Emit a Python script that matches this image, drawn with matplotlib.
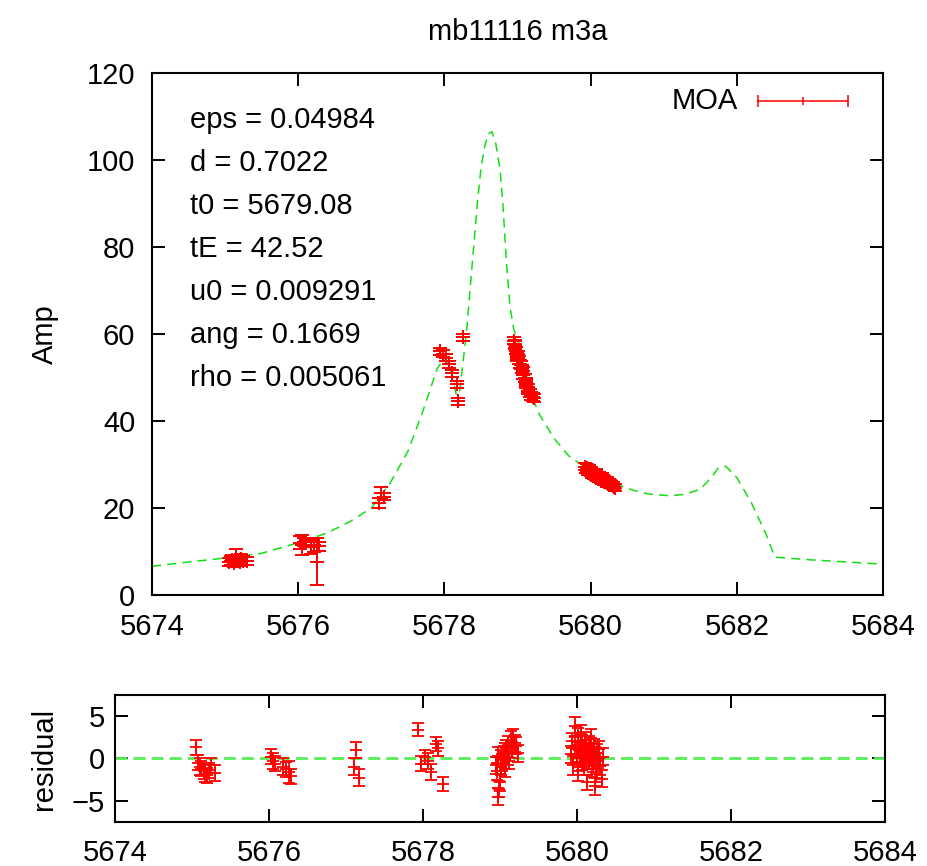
import matplotlib
matplotlib.use('Agg')
import matplotlib.pyplot as plt

plt.rcParams['font.family'] = ['Liberation Sans', 'DejaVu Sans']
plt.rcParams['font.size'] = 21

# model curve
model_t = [5674.0, 5674.5, 5675.0, 5675.5, 5676.0, 5676.4, 5676.7, 5677.0, 5677.25,
           5677.5, 5677.7, 5677.9, 5678.0, 5678.08, 5678.15, 5678.19, 5678.23, 5678.3,
           5678.35, 5678.4, 5678.45, 5678.5, 5678.55, 5678.6, 5678.65, 5678.7, 5678.76,
           5678.8, 5678.85, 5678.9, 5678.95, 5679.0,
           5679.1, 5679.2, 5679.3, 5679.5, 5679.7, 5680.0, 5680.2, 5680.4, 5680.6,
           5680.8, 5681.1, 5681.3, 5681.5, 5681.65, 5681.75, 5681.85, 5682.0, 5682.2,
           5682.4, 5682.52, 5683.0, 5683.5, 5684.0]
model_amp = [6.6, 7.6, 8.5, 9.6, 12.0, 14.3, 16.8, 20.0, 25.5,
             33.0, 42.0, 52.0, 54.5, 52.0, 47.0, 44.0, 50.0, 60.0,
             70.0, 80.0, 90.0, 98.0, 103.0, 106.0, 106.5, 104.0, 98.0,
             90.0, 76.0, 66.0, 61.0, 59.0,
             52.0, 45.5, 41.5, 36.0, 32.0, 28.5, 26.5, 25.2, 24.0,
             23.2, 22.8, 23.2, 24.3, 27.0, 29.3, 29.6, 27.0, 21.2,
             14.0, 8.7, 8.1, 7.6, 7.1]

# MOA data: time, amplification, error, residual, residual error
moa_t = [5675.05, 5675.08, 5675.10, 5675.12, 5675.15, 5675.17, 5675.20, 5675.22, 5675.25, 5675.30,
         5676.02, 5676.05, 5676.08, 5676.18, 5676.22, 5676.26, 5676.28,
         5677.10, 5677.13, 5677.17,
         5677.94, 5677.98, 5678.02, 5678.06, 5678.10, 5678.17, 5678.19, 5678.26,
         5678.95, 5678.96, 5678.97, 5678.98, 5678.99, 5679.00, 5679.01, 5679.02, 5679.03, 5679.05,
         5679.06, 5679.07, 5679.08, 5679.10, 5679.11, 5679.12, 5679.14, 5679.15, 5679.17, 5679.19,
         5679.21, 5679.23,
         5679.92, 5679.94, 5679.95, 5679.97, 5679.98, 5680.00, 5680.01, 5680.02, 5680.03, 5680.04,
         5680.05, 5680.06, 5680.07, 5680.08, 5680.09, 5680.10, 5680.11, 5680.12, 5680.13, 5680.14,
         5680.15, 5680.16, 5680.17, 5680.18, 5680.19, 5680.20, 5680.21, 5680.22, 5680.23, 5680.24,
         5680.25, 5680.26, 5680.27, 5680.28, 5680.30, 5680.32, 5680.34]
moa_amp = [7.6, 7.9, 8.1, 7.4, 8.8, 8.0, 7.7, 8.3, 7.9, 7.8,
           12.0, 11.6, 12.2, 11.0, 11.5, 7.6, 11.2,
           21.2, 23.5, 22.6,
           56.0, 55.5, 54.5, 53.0, 51.0, 48.5, 44.5, 59.3,
           58.5, 57.5, 57.8, 56.2, 55.0, 54.6, 55.3, 54.0, 53.2, 52.8,
           52.0, 51.5, 50.5, 49.8, 49.0, 48.5, 47.6, 47.0, 46.5, 45.8,
           45.5, 45.3,
           29.5, 28.8, 29.2, 28.5, 28.9, 28.0, 28.6, 27.9, 28.3, 27.5,
           28.1, 27.6, 27.2, 27.9, 27.0, 27.4, 26.8, 27.5, 26.9, 26.5,
           27.1, 26.4, 26.9, 26.2, 26.6, 26.0, 26.5, 25.8, 26.3, 25.7,
           25.9, 25.4, 25.8, 25.3, 25.1, 24.9, 24.7]
moa_err = [1.0, 1.0, 1.2, 1.0, 1.8, 1.1, 1.0, 1.2, 1.0, 1.0,
           1.5, 2.3, 1.0, 1.6, 1.5, 5.4, 1.0,
           1.2, 1.3, 0.8,
           0.8, 0.8, 0.8, 0.8, 0.8, 0.8, 0.8, 0.8,
           0.9, 0.9, 0.9, 0.9, 0.9, 0.9, 0.9, 0.9, 0.9, 0.9,
           0.9, 0.9, 0.9, 0.9, 0.9, 0.9, 0.9, 0.9, 0.9, 0.9,
           0.9, 0.9,
           0.8, 0.7, 0.9, 0.8, 1.0, 0.7, 0.8, 0.9, 0.7, 0.8,
           0.9, 0.8, 0.7, 1.0, 0.8, 0.7, 0.9, 0.8, 0.8, 0.7,
           0.9, 0.8, 0.7, 0.9, 0.8, 0.8, 0.7, 0.9, 0.8, 0.7,
           0.8, 0.9, 0.7, 0.8, 0.8, 0.7, 0.8]
moa_res = [1.3, -0.5, -1.0, -1.2, -1.5, -1.8, -2.0, -1.4, -0.8, -1.7,
           0.2, -0.3, -0.6, -1.0, -1.3, -1.6, -2.1,
           -1.0, 1.0, -2.3,
           3.4, -0.6, 0.2, -0.3, -1.6, 1.7, 1.2, -3.0,
           -0.8, -1.5, 0.3, -4.5, -3.6, -2.8, -1.0, 0.0, -0.5, 0.5,
           -1.2, 0.8, 1.2, 0.2, 1.6, -0.3, 2.2, 1.0, 2.5, 1.8,
           1.5, 0.6,
           0.5, 2.1, -0.8, 1.5, 3.8, 0.2, 2.6, -1.5, 1.0, 0.0,
           2.9, -0.5, 1.8, 0.6, -1.0, 2.2, 0.3, 1.2, -2.8, 0.8,
           1.6, -0.3, 0.1, 2.4, -1.2, 0.9, -0.6, 1.3, -3.3, 0.4,
           -1.8, 0.7, -0.2, 1.1, -0.9, -2.4, 0.2]
moa_res_err = [0.9, 0.9, 1.0, 0.9, 0.9, 1.0, 0.9, 0.9, 0.9, 0.9,
               0.9, 1.0, 0.9, 1.0, 0.9, 1.3, 0.9,
               1.0, 0.9, 1.0,
               0.8, 0.9, 0.8, 0.9, 0.9, 0.8, 0.9, 0.8,
               1.0, 1.0, 1.0, 1.0, 1.0, 1.0, 1.0, 1.0, 1.0, 1.0,
               1.0, 1.0, 1.0, 1.0, 1.0, 1.0, 1.0, 1.0, 1.0, 1.0,
               1.0, 1.0,
               1.0, 0.9, 1.1, 1.0, 1.1, 0.9, 1.0, 1.1, 0.9, 1.0,
               1.0, 0.9, 1.0, 1.1, 1.0, 0.9, 1.0, 1.0, 0.9, 1.0,
               1.0, 0.9, 1.0, 1.1, 1.0, 0.9, 1.0, 1.0, 1.0, 0.9,
               1.0, 1.0, 0.9, 1.0, 1.1, 1.0, 1.0]

params = ['eps = 0.04984', 'd = 0.7022', 't0 = 5679.08', 'tE = 42.52',
          'u0 = 0.009291', 'ang = 0.1669', 'rho = 0.005061']

fig = plt.figure(figsize=(9.28, 8.66), dpi=100)
ax = fig.add_axes([0.1638, 0.3129, 0.7877, 0.6028])
axr = fig.add_axes([0.1239, 0.0508, 0.8297, 0.1467])

green = '#11e011'

# main panel
ax.plot(model_t, model_amp, color=green, lw=1.1, dashes=(6, 4))
ax.errorbar(moa_t, moa_amp, yerr=moa_err, fmt='+', color='red', ms=10, mew=1.4,
            elinewidth=1.4, capsize=5, capthick=1.4)
ax.set_xlim(5674, 5684)
ax.set_ylim(0, 120)
ax.set_xticks(range(5674, 5685, 2))
ax.set_yticks(range(0, 121, 20))
ax.set_ylabel('Amp', labelpad=20)
fig.text(0.5577, 0.963, 'mb11116 m3a', ha='center', va='center')

for i, s in enumerate(params):
    ax.text(0.052, 0.910 - i * 0.0825, s, transform=ax.transAxes, ha='left', va='center')

# legend drawn like gnuplot's key
ax.text(0.802, 0.946, 'MOA', transform=ax.transAxes, ha='right', va='center')
ax.plot([0.829, 0.952], [0.946, 0.946], transform=ax.transAxes, color='red', lw=1.1)
ax.plot([0.829, 0.952], [0.946, 0.946], transform=ax.transAxes, color='red', lw=0,
        marker='|', ms=8, mew=1.1)
ax.plot([0.8905], [0.946], transform=ax.transAxes, color='red', marker='|', ms=6, mew=1.1)

# residual panel
axr.axhline(0, color='#55ee55', lw=2.0, dashes=(4.3, 2.2))
axr.errorbar(moa_t, moa_res, yerr=moa_res_err, fmt='+', color='red', ms=8, mew=1.3,
             elinewidth=1.3, capsize=4, capthick=1.3)
axr.set_xlim(5674, 5684)
axr.set_ylim(-7.5, 7.5)
axr.set_xticks(range(5674, 5685, 2))
axr.set_yticks([-5, 0, 5])
axr.set_ylabel('residual', labelpad=10)

for a, xpad, ypad in [(ax, 13, 12), (axr, 12, 7)]:
    a.tick_params(direction='in', length=9.4, width=1.4, top=True, right=True)
    a.tick_params(axis='x', pad=xpad)
    a.tick_params(axis='y', pad=ypad)
    for sp in a.spines.values():
        sp.set_linewidth(1.5)

fig.savefig('out.png', dpi=100)
